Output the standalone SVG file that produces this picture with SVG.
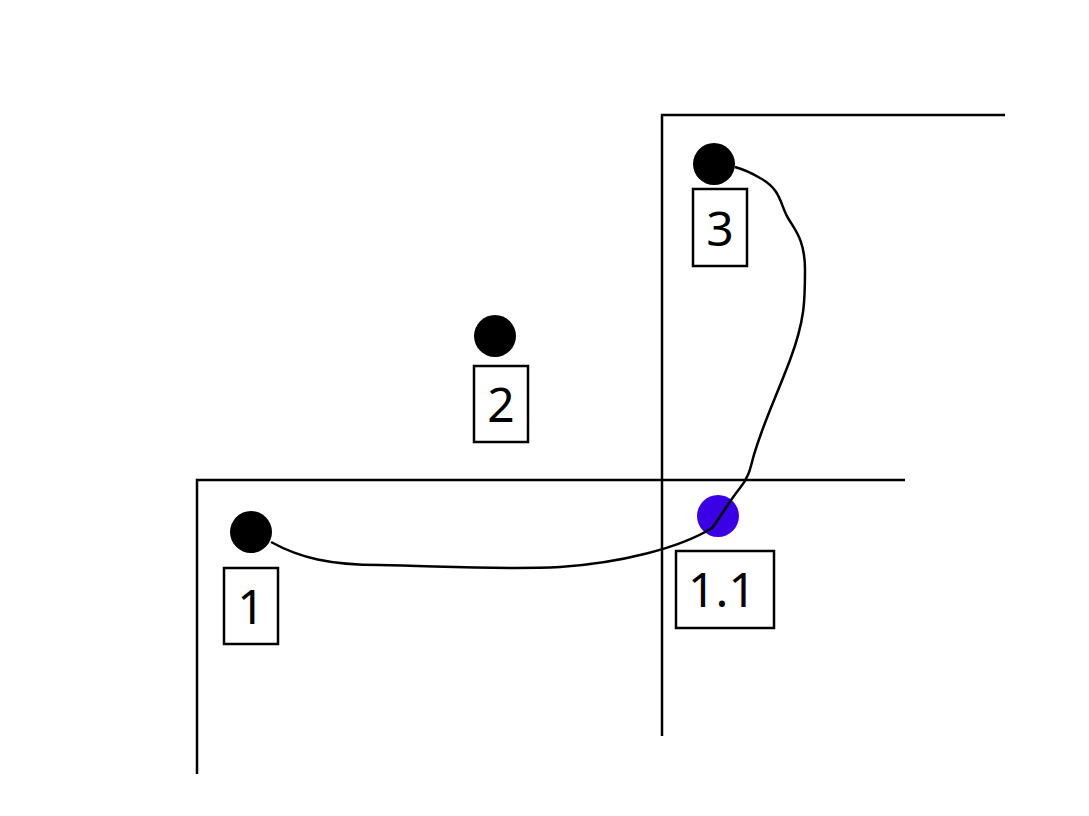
<svg xmlns="http://www.w3.org/2000/svg" width="1089" height="816" viewBox="0 0 1089 816">
<style>
.ln{stroke:#000;stroke-width:2.5;fill:none}
.dot{fill:#000}
.box{fill:#fff;stroke:#000;stroke-width:2.5}
.lbl{font-family:"Noto Sans","Open Sans",sans-serif;font-size:48px;fill:#000;text-anchor:middle}
</style>
<rect width="1089" height="816" fill="#fff"/>
<g id="frames">
<polyline class="ln" points="1005,115 662,115 662,736"/>
<polyline class="ln" points="905,480 197,480 197,774"/>
</g>
<g id="node-1">
<circle class="dot" cx="251" cy="532" r="21"/>
<rect class="box" x="224" y="568" width="54" height="76"/>
<text class="lbl" x="251" y="624">1</text>
</g>
<g id="node-2">
<circle class="dot" cx="495" cy="336" r="21"/>
<rect class="box" x="474" y="366" width="54" height="76"/>
<text class="lbl" x="501" y="422">2</text>
</g>
<g id="node-3">
<circle class="dot" cx="714" cy="164" r="21"/>
<rect class="box" x="693" y="189" width="54" height="77"/>
<text class="lbl" x="720" y="246">3</text>
</g>
<g id="node-1-1">
<circle cx="718" cy="516" r="21" fill="#3a00e6"/>
<rect class="box" x="676" y="551" width="98" height="77"/>
<text class="lbl" x="722" y="607">1.1</text>
</g>
<g id="connectors">
<path class="ln" d="M271,542 C300,558 330,565 380,565 C440,566 500,570 560,567 C620,563 680,548 712,528 C722,515 730,500 740,488 C748,478 750,470 752,462 C760,430 775,400 790,360 C805,320 805,300 805,270 C805,240 795,230 788,218 C780,205 782,190 760,178 C750,172 742,169 735,167"/>
</g>
</svg>
